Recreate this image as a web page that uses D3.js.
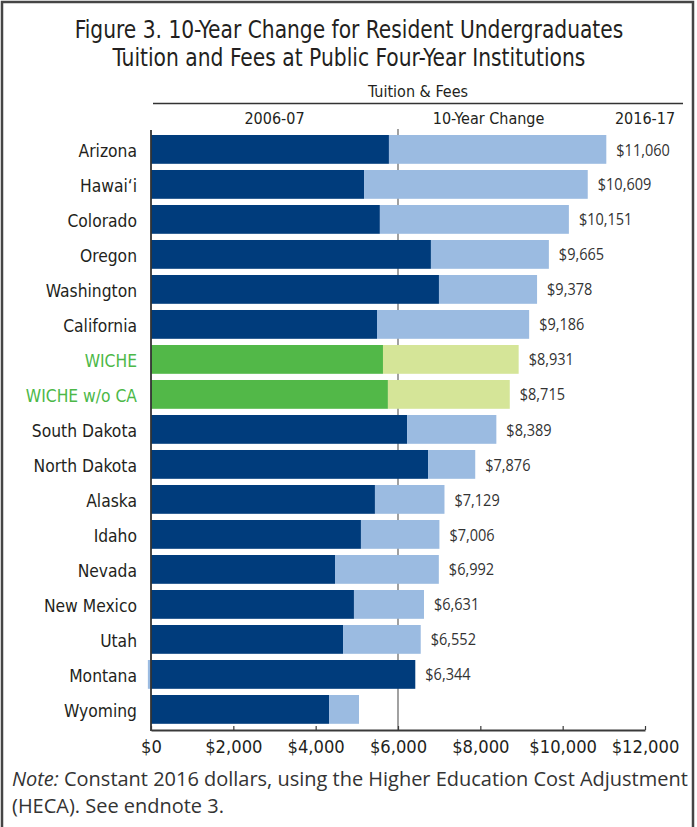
<!DOCTYPE html>
<html>
<head>
<meta charset="utf-8">
<script src="https://cdn.jsdelivr.net/npm/d3@7/dist/d3.min.js"></script>
<style>
  html, body { margin: 0; padding: 0; background: #fff; }
  svg { display: block; }
  .cond { font-family: "DejaVu Sans Condensed", "Liberation Sans Narrow", sans-serif; }
  .plain { font-family: "Open Sans", "Noto Sans", sans-serif; }
</style>
</head>
<body>
<svg id="chart" width="697" height="827"></svg>
<script>
// ---- data ----
const states = ["Arizona", "Hawai\u2018i", "Colorado", "Oregon", "Washington", "California", "WICHE", "WICHE w/o CA",
  "South Dakota", "North Dakota", "Alaska", "Idaho", "Nevada", "New Mexico", "Utah", "Montana", "Wyoming"];
const tuition2006 = [5780, 5175, 5560, 6800, 6995, 5490, 5635, 5755, 6220, 6730, 5440, 5100, 4470, 4930, 4665, 6420, 4325];
const tuition2016 = [11060, 10609, 10151, 9665, 9378, 9186, 8931, 8715, 8389, 7876, 7129, 7006, 6992, 6631, 6552, 6344, 5053];
const highlighted = ["WICHE", "WICHE w/o CA"];
const unlabeled = ["Wyoming"];
const xTicks = [0, 2000, 4000, 6000, 8000, 10000, 12000];
const titleLines = ["Figure 3. 10-Year Change for Resident Undergraduates", "Tuition and Fees at Public Four-Year Institutions"];
const headerTop = "Tuition & Fees";
const headerCols = [["2006-07", 3000], ["10-Year Change", 8200], ["2016-17", 12000]];
const gridValue = 6000;

const rows = states.map((s, i) => ({
  state: s,
  base: tuition2006[i],
  total: tuition2016[i],
  change: tuition2016[i] - tuition2006[i],
  hl: highlighted.includes(s),
  label: !unlabeled.includes(s)
}));

const colors = {
  base: "#003c7c", change: "#9bbbe1",
  hlBase: "#52b848", hlChange: "#d5e598",
  hlText: "#4cb848", text: "#231f20"
};

const svg = d3.select("#chart");
const W = 697, H = 827;

// squeeze a text element horizontally to a target width, around its anchor point
function fitWidth(sel, target, cx) {
  const w = sel.node().getComputedTextLength();
  if (!w) return;
  const s = target / w;
  sel.attr("transform", `translate(${cx},0) scale(${s},1) translate(${-cx},0)`);
}

svg.append("rect").attr("width", W).attr("height", H).attr("fill", "#fff");

// frame
svg.append("path")
  .attr("d", `M2,${H + 5} L2,2 L693,2 L693,${H + 5}`)
  .attr("fill", "none").attr("stroke", "#454545").attr("stroke-width", 2.5);

const x = d3.scaleLinear().domain([0, 12000]).range([151, 645]);
const y = d3.scaleBand().domain(states).range([128.8, 730]).paddingInner(0.177).paddingOuter(0.177);

// title
const titleW = [549, 473];
svg.append("g").selectAll("text").data(titleLines).join("text")
  .attr("class", "cond")
  .attr("x", 349).attr("y", (d, i) => 38 + i * 28)
  .attr("text-anchor", "middle")
  .attr("font-size", 25)
  .attr("fill", colors.text)
  .text(d => d)
  .each(function (d, i) { fitWidth(d3.select(this), titleW[i], 349); });

// header
svg.append("text").attr("class", "cond")
  .attr("x", 418).attr("y", 97).attr("text-anchor", "middle")
  .attr("font-size", 16).attr("fill", colors.text).text(headerTop);
svg.append("line").attr("x1", 153).attr("x2", 683).attr("y1", 103.5).attr("y2", 103.5)
  .attr("stroke", "#333").attr("stroke-width", 1.3);
svg.append("g").selectAll("text").data(headerCols).join("text")
  .attr("class", "cond")
  .attr("x", d => x(d[1])).attr("y", 124).attr("text-anchor", "middle")
  .attr("font-size", 16).attr("fill", colors.text).text(d => d[0]);

// gridline at 6000 (behind bars)
svg.append("line")
  .attr("x1", x(gridValue)).attr("x2", x(gridValue))
  .attr("y1", 129).attr("y2", 730)
  .attr("stroke", "#7a7a7a").attr("stroke-width", 1.4);

// bars
const g = svg.append("g");
g.selectAll("rect.base").data(rows).join("rect")
  .attr("class", "base")
  .attr("x", x(0)).attr("y", d => y(d.state))
  .attr("width", d => x(d.base) - x(0))
  .attr("height", y.bandwidth())
  .attr("fill", d => d.hl ? colors.hlBase : colors.base);

g.selectAll("rect.chg").data(rows).join("rect")
  .attr("class", "chg")
  .attr("x", d => d.change >= 0 ? x(d.base) : x(d.change))
  .attr("y", d => y(d.state))
  .attr("width", d => Math.abs(x(d.change) - x(0)))
  .attr("height", y.bandwidth())
  .attr("fill", d => d.hl ? colors.hlChange : colors.change);

// value labels (slightly condensed sans)
const fmt = d3.format("$,");
g.selectAll("text.val").data(rows.filter(d => d.label)).join("text")
  .attr("class", "val plain")
  .attr("x", d => x(Math.max(d.total, d.base)) + 10)
  .attr("y", d => y(d.state) + y.bandwidth() / 2)
  .attr("dy", "0.37em")
  .attr("font-size", 16.5)
  .attr("fill", "#333")
  .text(d => fmt(d.total))
  .attr("transform", d => {
    const cx = x(Math.max(d.total, d.base)) + 10;
    return `translate(${cx},0) scale(0.88,1) translate(${-cx},0)`;
  });

// state labels
svg.append("g").selectAll("text").data(rows).join("text")
  .attr("class", "cond")
  .attr("x", 137)
  .attr("y", d => y(d.state) + y.bandwidth() / 2)
  .attr("dy", "0.42em")
  .attr("text-anchor", "end")
  .attr("font-size", 17.3)
  .attr("fill", d => d.hl ? colors.hlText : colors.text)
  .text(d => d.state);

// y axis line
svg.append("line").attr("x1", x(0)).attr("x2", x(0)).attr("y1", 130).attr("y2", 731)
  .attr("stroke", "#333").attr("stroke-width", 1.8);

// x axis
const xAxis = d3.axisBottom(x).tickValues(xTicks).tickFormat(d3.format("$,")).tickSizeInner(-4).tickSizeOuter(0).tickPadding(10);
const ax = svg.append("g").attr("transform", "translate(0,730)").call(xAxis);
ax.attr("font-family", null).attr("font-size", null);
ax.select(".domain").attr("stroke", "#3a3a3a").attr("stroke-width", 2);
ax.selectAll(".tick line").attr("stroke", "#3a3a3a").attr("stroke-width", 1.2);
ax.selectAll(".tick text").attr("class", "cond").attr("font-size", 18.2).attr("fill", colors.text);

// note
const note = svg.append("g").attr("class", "plain").attr("fill", "#333");
const n1 = note.append("text").attr("x", 12).attr("y", 786).attr("font-size", 18);
n1.append("tspan").attr("font-style", "italic").text("Note:");
n1.append("tspan").text(" Constant 2016 dollars, using the Higher Education Cost Adjustment");
const n2 = note.append("text").attr("x", 12).attr("y", 813).attr("font-size", 18)
  .text("(HECA). See endnote 3.");
const targetW = 676;
const w1 = n1.node().getComputedTextLength();
if (w1 > 0) {
  const fs = 18 * targetW / w1;
  n1.attr("font-size", fs);
  n2.attr("font-size", fs);
}
</script>
</body>
</html>
